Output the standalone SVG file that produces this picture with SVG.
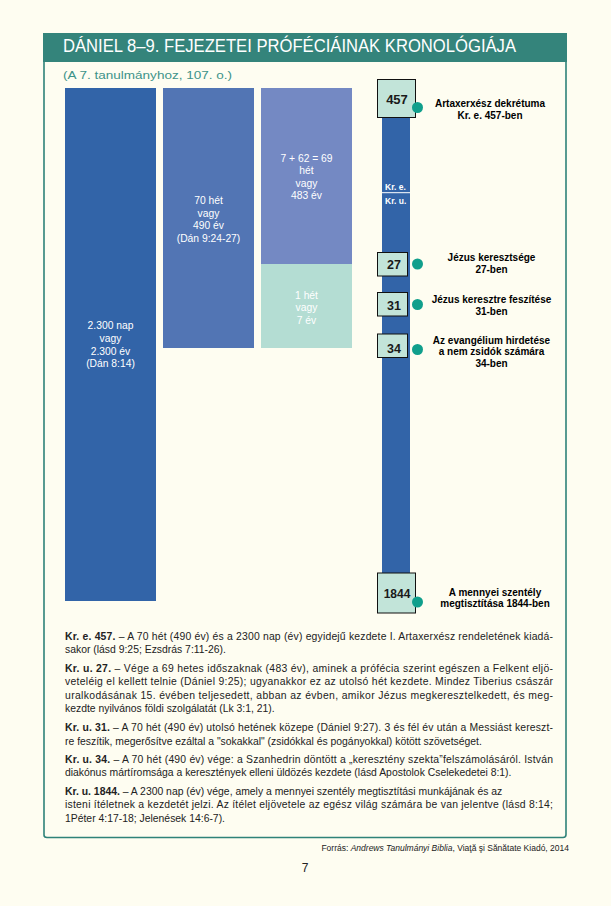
<svg xmlns="http://www.w3.org/2000/svg" width="611" height="906" viewBox="0 0 611 906">
<style>
text{font-family:"Liberation Sans",Arial,sans-serif}
.bar{fill:#fff;font-size:10.3px;text-anchor:middle}
.num{fill:#1a1a1a;font-weight:bold;text-anchor:middle}
.lbl{fill:#000;font-weight:bold;font-size:10px;text-anchor:middle}
.box{fill:#c2e4d9;stroke:#111;stroke-width:1}
.dot{fill:#109f8c}
.fn{fill:#222;font-size:10.4px}
.fn tspan.b{font-weight:bold}
</style>
<rect width="611" height="906" fill="#fefdf1"/>
<g id="frame">
<path d="M44 62 V835 Q44 837.5 47 837.5 H563 Q566 837.5 566 834.5 V62" fill="none" stroke="#2f8279" stroke-width="1.6"/>
<rect x="43" y="33" width="524" height="29" fill="#34847b"/>
<text x="63" y="52" font-size="18" fill="#fff" textLength="453" lengthAdjust="spacingAndGlyphs">DÁNIEL 8–9. FEJEZETEI PRÓFÉCIÁINAK KRONOLÓGIÁJA</text>
<text x="63" y="79" font-size="11.5" fill="#3d9389" textLength="169" lengthAdjust="spacingAndGlyphs">(A 7. tanulmányhoz, 107. o.)</text>
</g>
<g id="bar-2300">
<rect x="65" y="88" width="91" height="513" fill="#3264a8"/>
<text class="bar" x="110.5" y="329">2.300 nap</text>
<text class="bar" x="110.5" y="341.5">vagy</text>
<text class="bar" x="110.5" y="354.5">2.300 év</text>
<text class="bar" x="110.5" y="367">(Dán 8:14)</text>
</g>
<g id="bar-70">
<rect x="163" y="88" width="91" height="260" fill="#5275b4"/>
<text class="bar" x="208.5" y="204">70 hét</text>
<text class="bar" x="208.5" y="216.5">vagy</text>
<text class="bar" x="208.5" y="229">490 év</text>
<text class="bar" x="208.5" y="241.5">(Dán 9:24-27)</text>
</g>
<g id="bar-69">
<rect x="261" y="88" width="91" height="176" fill="#7489c3"/>
<text class="bar" x="306.5" y="161.5">7 + 62 = 69</text>
<text class="bar" x="306.5" y="174">hét</text>
<text class="bar" x="306.5" y="186.5">vagy</text>
<text class="bar" x="306.5" y="199">483 év</text>
</g>
<g id="bar-1">
<rect x="261" y="264" width="91" height="84" fill="#b4ddd3"/>
<text class="bar" x="306.5" y="298.5">1 hét</text>
<text class="bar" x="306.5" y="311">vagy</text>
<text class="bar" x="306.5" y="323.5">7 év</text>
</g>
<g id="connectors">
<rect x="382" y="110" width="28" height="470" fill="#3264a8"/>
<line x1="382" y1="192.7" x2="410" y2="192.7" stroke="#fff" stroke-width="1"/>
<text x="385" y="189.5" font-size="8.5" font-weight="bold" fill="#fff">Kr. e.</text>
<text x="385" y="203.5" font-size="8.5" font-weight="bold" fill="#fff">Kr. u.</text>
</g>
<g id="node-457">
<rect class="box" x="377.5" y="79.5" width="38" height="38"/>
<text class="num" x="397" y="103.5" font-size="13">457</text>
<circle class="dot" cx="417.5" cy="107.5" r="5.5"/>
<text class="lbl" x="490" y="106.5">Artaxerxész dekrétuma</text>
<text class="lbl" x="490" y="118.5">Kr. e. 457-ben</text>
</g>
<g id="node-27">
<rect class="box" x="377.5" y="252.5" width="30" height="23.5"/>
<text class="num" x="394" y="268.5" font-size="12.5">27</text>
<circle class="dot" cx="417.5" cy="264" r="5.5"/>
<text class="lbl" x="491.5" y="260.5">Jézus keresztsége</text>
<text class="lbl" x="491.5" y="273">27-ben</text>
</g>
<g id="node-31">
<rect class="box" x="377.5" y="292.5" width="30" height="23.5"/>
<text class="num" x="394" y="309.5" font-size="12.5">31</text>
<circle class="dot" cx="417.5" cy="304.5" r="5.5"/>
<text class="lbl" x="491.5" y="302.5">Jézus keresztre feszítése</text>
<text class="lbl" x="491.5" y="314.5">31-ben</text>
</g>
<g id="node-34">
<rect class="box" x="377.5" y="334" width="30" height="23.5"/>
<text class="num" x="394" y="353" font-size="12.5">34</text>
<circle class="dot" cx="417.5" cy="349.5" r="5.5"/>
<text class="lbl" x="491.5" y="343.5">Az evangélium hirdetése</text>
<text class="lbl" x="491.5" y="355">a nem zsidók számára</text>
<text class="lbl" x="491.5" y="366.5">34-ben</text>
</g>
<g id="node-1844">
<rect class="box" x="377.5" y="573" width="38" height="40"/>
<text class="num" x="397" y="597.5" font-size="12">1844</text>
<circle class="dot" cx="417.5" cy="602" r="5.5"/>
<text class="lbl" x="495" y="595.5">A mennyei szentély</text>
<text class="lbl" x="495" y="607">megtisztítása 1844-ben</text>
</g>
<g id="notes">
<text class="fn" x="65" y="639.5" textLength="488" lengthAdjust="spacing"><tspan class="b">Kr. e. 457.</tspan> – A 70 hét (490 év) és a 2300 nap (év) egyidejű kezdete I. Artaxerxész rendeletének kiadá-</text>
<text class="fn" x="65" y="653">sakor (lásd 9:25; Ezsdrás 7:11-26).</text>
<text class="fn" x="65" y="671.5" textLength="488" lengthAdjust="spacing"><tspan class="b">Kr. u. 27.</tspan> – Vége a 69 hetes időszaknak (483 év), aminek a prófécia szerint egészen a Felkent eljö-</text>
<text class="fn" x="65" y="685" textLength="488" lengthAdjust="spacing">veteléig el kellett telnie (Dániel 9:25); ugyanakkor ez az utolsó hét kezdete. Mindez Tiberius császár</text>
<text class="fn" x="65" y="698.5" textLength="488" lengthAdjust="spacing">uralkodásának 15. évében teljesedett, abban az évben, amikor Jézus megkeresztelkedett, és meg-</text>
<text class="fn" x="65" y="712">kezdte nyilvános földi szolgálatát (Lk 3:1, 21).</text>
<text class="fn" x="65" y="731" textLength="488" lengthAdjust="spacing"><tspan class="b">Kr. u. 31.</tspan> – A 70 hét (490 év) utolsó hetének közepe (Dániel 9:27). 3 és fél év után a Messiást kereszt-</text>
<text class="fn" x="65" y="744.5">re feszítik, megerősítve ezáltal a "sokakkal" (zsidókkal és pogányokkal) kötött szövetséget.</text>
<text class="fn" x="65" y="762.5" textLength="488" lengthAdjust="spacing"><tspan class="b">Kr. u. 34.</tspan> – A 70 hét (490 év) vége: a Szanhedrin döntött a „keresztény szekta”felszámolásáról. István</text>
<text class="fn" x="65" y="776">diakónus mártíromsága a keresztények elleni üldözés kezdete (lásd Apostolok Cselekedetei 8:1).</text>
<text class="fn" x="65" y="794.5"><tspan class="b">Kr. u. 1844.</tspan> – A 2300 nap (év) vége, amely a mennyei szentély megtisztítási munkájának és az</text>
<text class="fn" x="65" y="808" textLength="488" lengthAdjust="spacing">isteni ítéletnek a kezdetét jelzi. Az ítélet eljövetele az egész világ számára be van jelentve (lásd 8:14;</text>
<text class="fn" x="65" y="821.5">1Péter 4:17-18; Jelenések 14:6-7).</text>
</g>
<g id="source">
<text x="569" y="851" font-size="8.5" fill="#222" text-anchor="end">Forrás: <tspan font-style="italic">Andrews Tanulmányi Biblia</tspan>, Viaţă şi Sănătate Kiadó, 2014</text>
<text x="305" y="872" font-size="12" fill="#222" text-anchor="middle">7</text>
</g>
</svg>
